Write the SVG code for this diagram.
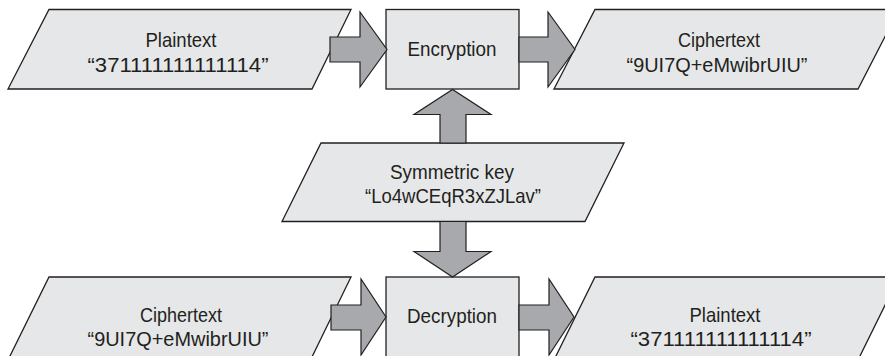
<svg xmlns="http://www.w3.org/2000/svg" width="885" height="356" viewBox="0 0 885 356">
  <style>
    .data { fill: #e6e7e8; stroke: #231f20; stroke-width: 1.3; stroke-linejoin: miter; }
    .proc { fill: #e6e7e8; stroke: #231f20; stroke-width: 1.3; }
    .flow { fill: #a7a9ac; stroke: #231f20; stroke-width: 1.2; stroke-linejoin: miter; }
    text { font-family: "Liberation Sans", Arial, sans-serif; font-size: 21px; fill: #231f20; text-anchor: middle; }
  </style>
  <rect width="885" height="356" fill="#ffffff"/>

  <!-- Row 1: encryption -->
  <g id="plaintext-in">
    <polygon class="data" points="49,9.5 351,9.5 312,89 8,89"/>
    <text x="181" y="47" textLength="71" lengthAdjust="spacingAndGlyphs">Plaintext</text>
    <text x="178" y="71.5" textLength="181" lengthAdjust="spacingAndGlyphs">“371111111111114”</text>
  </g>
  <g id="encryption">
    <rect class="proc" x="386" y="9.5" width="133" height="79.5"/>
    <text x="452" y="55.5" textLength="89" lengthAdjust="spacingAndGlyphs">Encryption</text>
  </g>
  <g id="ciphertext-out">
    <polygon class="data" points="595,9.5 899,9.5 858,89 554,89"/>
    <text x="719" y="47" textLength="82" lengthAdjust="spacingAndGlyphs">Ciphertext</text>
    <text x="717" y="71.5" textLength="181" lengthAdjust="spacingAndGlyphs">“9UI7Q+eMwibrUIU”</text>
  </g>

  <!-- Shared key -->
  <g id="symmetric-key">
    <polygon class="data" points="321,143 624,143 585,221.5 282,221.5"/>
    <text x="452" y="178.5" textLength="124" lengthAdjust="spacingAndGlyphs">Symmetric key</text>
    <text x="453" y="202.5" textLength="176" lengthAdjust="spacingAndGlyphs">“Lo4wCEqR3xZJLav”</text>
  </g>

  <!-- Row 2: decryption -->
  <g id="ciphertext-in">
    <polygon class="data" points="49,277 351,277 310.5,360 8,360"/>
    <text x="181" y="322" textLength="82" lengthAdjust="spacingAndGlyphs">Ciphertext</text>
    <text x="178" y="346" textLength="181" lengthAdjust="spacingAndGlyphs">“9UI7Q+eMwibrUIU”</text>
  </g>
  <g id="decryption">
    <rect class="proc" x="386" y="277" width="133" height="90"/>
    <text x="452" y="323" textLength="90" lengthAdjust="spacingAndGlyphs">Decryption</text>
  </g>
  <g id="plaintext-out">
    <polygon class="data" points="595,277 899,277 858,360 554,360"/>
    <text x="725" y="322" textLength="71" lengthAdjust="spacingAndGlyphs">Plaintext</text>
    <text x="721" y="346" textLength="181" lengthAdjust="spacingAndGlyphs">“371111111111114”</text>
  </g>

  <!-- Block arrows -->
  <g id="connectors">
    <polygon class="flow" points="330,37 360,37 360,12 387,49.5 360,87 360,62 330,62"/>
    <polygon class="flow" points="519,37 548,37 548,12 575,49.5 548,87 548,62 519,62"/>
    <polygon class="flow" points="440,143 440,114.5 414,114.5 452.5,89.5 491,114.5 466,114.5 466,143"/>
    <polygon class="flow" points="440,221.5 440,251.5 414,251.5 452.5,277 491,251.5 466,251.5 466,221.5"/>
    <polygon class="flow" points="331,305 361,305 361,279 386,317 361,355 361,330 331,330"/>
    <polygon class="flow" points="519,305 549,305 549,279 574,317 549,355 549,330 519,330"/>
  </g>
</svg>
